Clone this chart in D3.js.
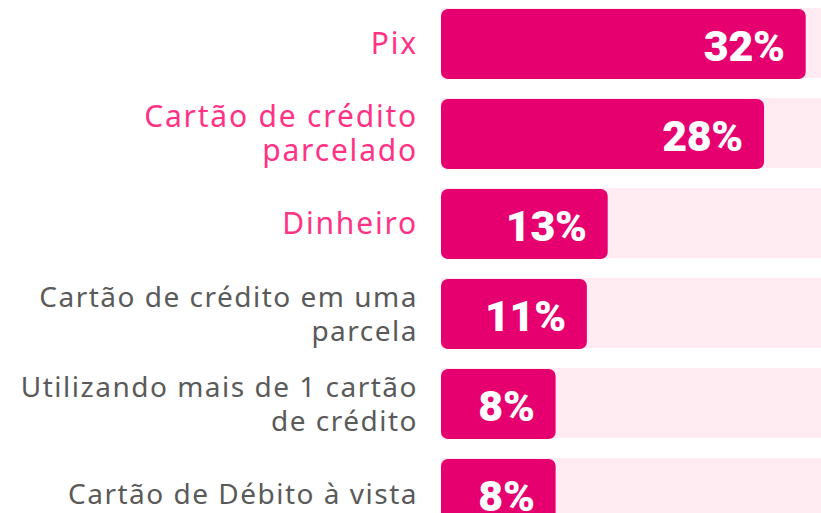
<!DOCTYPE html>
<html>
<head>
<meta charset="utf-8">
<script src="https://cdn.jsdelivr.net/npm/d3@7"></script>
<style>
  html, body { margin: 0; padding: 0; background: #ffffff; overflow: hidden; }
  svg { display: block; }
</style>
</head>
<body>
<svg id="chart" width="821" height="513"></svg>
<script>
// ---- data ----
const categories = [
  "Pix",
  "Cartão de crédito parcelado",
  "Dinheiro",
  "Cartão de crédito em uma parcela",
  "Utilizando mais de 1 cartão de crédito",
  "Cartão de Débito à vista"
];
const labelLines = [
  ["Pix"],
  ["Cartão de crédito", "parcelado"],
  ["Dinheiro"],
  ["Cartão de crédito em uma", "parcela"],
  ["Utilizando mais de 1 cartão", "de crédito"],
  ["Cartão de Débito à vista"]
];
const values = [32, 28, 13, 11, 8, 8];
const highlighted = [true, true, true, false, false, false];

// ---- layout ----
const W = 821, H = 513;
const svg = d3.select("#chart");

const y = d3.scaleBand()
  .domain(categories)
  .range([-1, 539])
  .paddingInner(0.2222)
  .paddingOuter(0.1111);

const x = d3.scaleLinear()
  .domain([-3, 36])
  .range([441, 441 + 39 * 10.42]);

const barColor = "#E6006F";
const trackColor = "#FFEBF1";
const pinkText = "#FF3385";
const grayText = "#5A5A5A";

const rows = svg.selectAll("g.row")
  .data(categories.map((c, i) => ({ c, i, v: values[i], lines: labelLines[i], hl: highlighted[i] })))
  .join("g")
  .attr("class", "row");

// background track
rows.append("rect")
  .attr("x", x(-3))
  .attr("y", d => y(d.c) - 1)
  .attr("width", x(36) - x(-3))
  .attr("height", y.bandwidth())
  .attr("fill", trackColor);

// bar
rows.append("rect")
  .attr("x", x(-3))
  .attr("y", d => y(d.c))
  .attr("width", d => x(d.v) - x(-3))
  .attr("height", y.bandwidth())
  .attr("rx", 7)
  .attr("ry", 7)
  .attr("fill", barColor);

// value label
rows.append("text")
  .attr("x", d => x(d.v) - 21)
  .attr("y", d => y(d.c) + y.bandwidth() / 2 + 17)
  .attr("text-anchor", "end")
  .attr("fill", "#ffffff")
  .attr("font-family", "Roboto, 'Noto Sans', sans-serif")
  .attr("font-weight", 900)
  .attr("font-size", 43)
  .attr("letter-spacing", "-0.3")
  .text(d => d.v + "%");

// category labels
const lineH = 34;
rows.each(function(d) {
  const g = d3.select(this);
  const n = d.lines.length;
  const cy = y(d.c) + y.bandwidth() / 2 + 10 - (n - 1) * lineH / 2;
  d.lines.forEach((ln, k) => {
    g.append("text")
      .attr("text-anchor", "end")
      .attr("fill", d.hl ? pinkText : grayText)
      .attr("font-family", "'Noto Sans', 'Open Sans', sans-serif")
      .attr("font-size", d.hl ? 30 : 28)
      .attr("letter-spacing", d.hl ? "1.8" : "1.5")
      .attr("x", 418)
      .attr("y", cy + k * lineH)
      .text(ln);
  });
});
</script>
</body>
</html>
